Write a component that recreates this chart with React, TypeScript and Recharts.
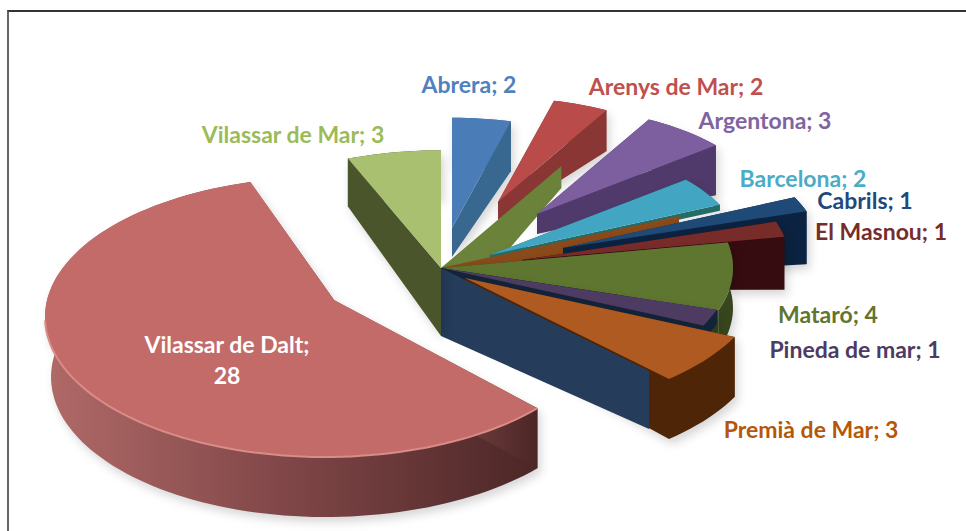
import { PieChart, Pie } from 'recharts'

const towns = ['Abrera', 'Arenys de Mar', 'Argentona', 'Barcelona', 'Cabrils', 'El Masnou', 'Mataró', 'Pineda de mar', 'Premià de Mar', 'Vilassar de Dalt', 'Vilassar de Mar']
const counts = [2, 2, 3, 2, 1, 1, 4, 1, 3, 28, 3]

const topColors = ['#4a7db8', '#b94c4a', '#7d5f9f', '#42a6c2', '#1f4a78', '#772c2a', '#5f7630', '#4d3b62', '#ae5a21', '#c36b68', '#a8c070']
const wallColors = ['#38678f', '#8a3634', '#4f3a6b', '#256c68', '#0b2340', '#360c10', '#38461e', '#13243a', '#4e2507', '#7a4040', '#4a552c']
const labelColors = ['#4f81bd', '#c0504d', '#8064a2', '#4bacc6', '#1f497d', '#772c2a', '#5f7530', '#4d3b62', '#b65708', '#ffffff', '#9bbb59']

// how far each slice is pulled out of the pie, and its size on screen
const shifts = [[11, -40], [57, -66], [96, -54], [49, -13], [122, -20], [81, -8], [0, 0], [0, 0], [24, 10], [-116, 49], [0, 0]]
const radii = [237, 225, 232, 254, 256, 267, 292, 290, 298, 280, 253]
const hubDepths = [29, 18, 20, 6, 30, 30, 50, 20, 50, 60, 68]
const rimDepths = [50, 41, 50, 6, 53, 53, 40, 14, 60, 60, 48]

// walls of the unexploded pie that show through, drawn at the slice's end angle
const innerWalls: Record<number, { color: string; radius: number; hub: number; rim: number }> = {
  1: { color: '#6a8239', radius: 250, hub: 60, rim: 22 },
  3: { color: '#8a4a1a', radius: 263, hub: 50, rim: 30 },
  8: { color: '#253c5a', radius: 304, hub: 68, rim: 58 },
}

const labelCenters = [[469, 84], [676, 86], [765, 120], [803, 178], [865, 200], [881, 231], [828, 314], [855, 349], [811, 429], [227, 344], [293, 134]]

const data = towns.map((name, i) => ({ name, value: counts[i], index: i }))

const TILT = 0.465
const DALT = 9

const pt = (x: number, y: number, deg: number, r: number, tilt: number) => {
  const a = (deg * Math.PI) / 180
  return [x + r * Math.sin(a), y - tilt * r * Math.cos(a)]
}
const toPath = (pts: number[][]) => 'M' + pts.map((p) => `${p[0].toFixed(1)},${p[1].toFixed(1)}`).join('L') + 'Z'
const drop = (p: number[], d: number) => [p[0], p[1] + d]

function SliceShape(props: any) {
  const i = props.payload?.index ?? props.index
  const isDalt = i === DALT
  const cx = props.cx + shifts[i][0]
  const cy = props.cy + shifts[i][1]
  const r = radii[i]
  const tilt = isDalt ? 0.5 : TILT
  // recharts angles run counter-clockwise from 3 o'clock, we want clockwise from 12
  let from = 90 - props.startAngle
  let to = 90 - props.endAngle
  if (isDalt) {
    const mid = (from + to) / 2
    from = mid + (from - mid) * 1.061
    to = mid + (to - mid) * 1.061
  }
  const arc: number[][] = []
  const steps = Math.max(4, Math.ceil((to - from) / 2))
  for (let s = 0; s <= steps; s++) arc.push(pt(cx, cy, from + ((to - from) * s) / steps, r, tilt))
  const hub = isDalt ? [cx + 9, cy - 17] : [cx, cy]
  const hubLow = drop(hub, hubDepths[i])
  const rim = rimDepths[i]
  const first = arc[0]
  const last = arc[arc.length - 1]
  const wallFill = isDalt ? 'url(#daltWall)' : wallColors[i]
  const inner = innerWalls[i]
  let innerPath = ''
  if (inner) {
    const tip = pt(props.cx, props.cy, to, inner.radius, TILT)
    innerPath = toPath([[props.cx, props.cy], tip, drop(tip, inner.rim), [props.cx, props.cy + inner.hub]])
  }
  // the big slice's lower edge pulls in a little on the left
  const lowArc = arc.map((p) => {
    const q = drop(p, rim)
    if (isDalt && p[0] < cx) q[0] += (6 * (cx - p[0])) / r
    return q
  })
  return (
    <g>
      {isDalt && (
        <defs>
          <linearGradient id='daltWall' x1='0' x2='1' y1='0' y2='0'>
            <stop offset='0' stopColor='#b06a68' />
            <stop offset='0.45' stopColor='#84494a' />
            <stop offset='1' stopColor='#4c2626' />
          </linearGradient>
        </defs>
      )}
      <g style={{ filter: 'drop-shadow(3px 5px 5px rgba(0,0,0,0.16))' }}>
        <path d={toPath([...arc, ...lowArc.reverse()])} fill={wallFill} />
        <path d={toPath([hub, first, drop(first, rim), hubLow])} fill={wallFill} />
        <path d={toPath([hub, last, drop(last, rim), hubLow])} fill={wallFill} />
      </g>
      {innerPath && <path d={innerPath} fill={inner.color} />}
      <path d={toPath([hub, ...arc])} fill={topColors[i]} />
      {isDalt && (
        <path
          d={'M' + arc.filter((p) => p[1] > 320).map((p) => `${p[0].toFixed(1)},${p[1].toFixed(1)}`).join('L')}
          fill='none'
          stroke='#d98c88'
          strokeWidth={2}
        />
      )}
    </g>
  )
}

function SliceLabel(props: any) {
  const i = props.payload?.index ?? props.index
  const [x, y] = labelCenters[i]
  const common = { textAnchor: 'middle' as const, dominantBaseline: 'central' as const, fill: labelColors[i], fontFamily: 'Lato', fontWeight: 700, fontSize: 23 }
  if (i === DALT) {
    return (
      <g>
        <text x={x} y={y} {...common}>{`${towns[i]};`}</text>
        <text x={x} y={y + 31} {...common}>{counts[i]}</text>
      </g>
    )
  }
  return <text x={x} y={y} {...common}>{`${towns[i]}; ${counts[i]}`}</text>
}

export default function App() {
  return (
    <div style={{ position: 'absolute', left: 0, top: 0, width: 966, height: 531, background: '#fff', overflow: 'hidden' }}>
      <div style={{ position: 'absolute', left: 7, top: 10, width: 959, height: 521, borderTop: '2px solid #333', borderLeft: '2px solid #666' }} />
      <div style={{ position: 'absolute', left: 0, top: 0 }}>
        <PieChart width={966} height={531} margin={{ top: 0, right: 0, bottom: 0, left: 0 }}>
          <Pie
            data={data}
            dataKey='value'
            nameKey='name'
            cx={441}
            cy={268}
            outerRadius={250}
            startAngle={90}
            endAngle={-270}
            stroke='none'
            shape={SliceShape}
            label={SliceLabel}
            labelLine={false}
            isAnimationActive={false}
          />
        </PieChart>
      </div>
    </div>
  )
}
